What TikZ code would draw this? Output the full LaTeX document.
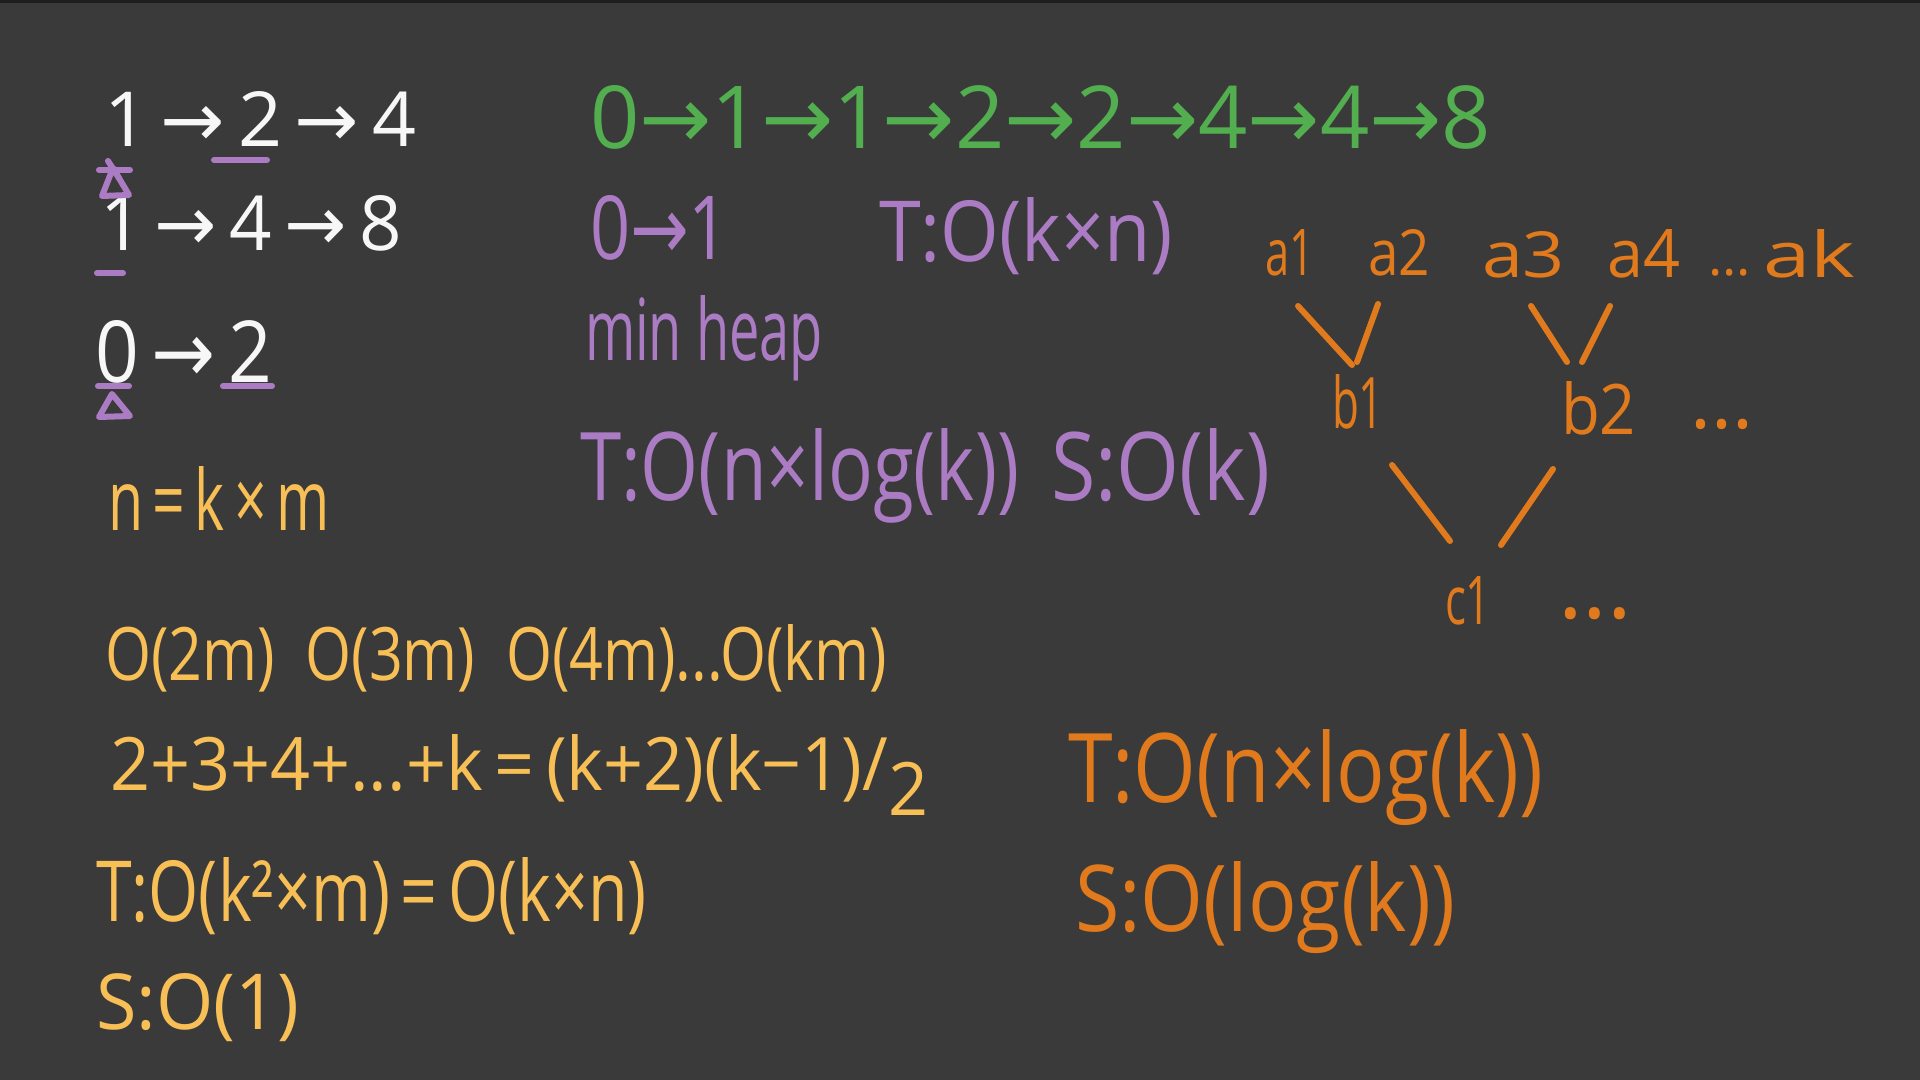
\documentclass[tikz,border=0pt]{standalone}
\usepackage{graphicx}
\usepackage{fontspec}
\setmainfont{Open Sans}
\newfontfamily\arrfont{DejaVu Sans}
\newlength\pxu
\setlength\pxu{0.5pt}
\newcommand\fitbox[3]{\resizebox{#1\pxu}{#2\pxu}{#3}}
\newcommand\fitw[2]{\resizebox{#1\pxu}{!}{#2}}
\newcommand\hwarrow{{\arrfont →}}
\definecolor{bgc}{HTML}{3A3A3A}
\definecolor{topc}{HTML}{1E1E1E}
\definecolor{chalk}{HTML}{F7F7F7}
\definecolor{lilac}{HTML}{AB7CC4}
\definecolor{leaf}{HTML}{52AE4F}
\definecolor{amber}{HTML}{F7BF55}
\definecolor{tang}{HTML}{E07A1C}
\tikzset{
  hw/.style={anchor=base west, inner sep=0pt, outer sep=0pt},
  pen/.style={line width=3pt, line cap=round, line join=round},
  treeline/.style={pen, draw=tang},
  hilite/.style={pen, draw=lilac},
}
\begin{document}
\begin{tikzpicture}[x=0.5pt, y=-0.5pt]
\fill[bgc] (0,0) rectangle (1920,1080);
\fill[topc] (0,0) rectangle (1920,3);
\useasboundingbox (0,0) rectangle (1920,1080);

% white lists
\node[hw, text=chalk] (r1) at (104,147) {\fitbox{312}{55}{1\,\hwarrow\,2\,\hwarrow\,4}};
\node[hw, text=chalk] (r2) at (100,251) {\fitbox{302}{55}{1\,\hwarrow\,4\,\hwarrow\,8}};
\node[hw, text=chalk] (r3) at (95,382) {\fitbox{177}{62}{0\,\hwarrow\,2}};

% purple marks on the lists
\draw[hilite] (214,160) -- (267,160);
\draw[hilite] (102,196) -- (113,168) -- (129,195) -- cycle;
\draw[hilite] (99,170) -- (130,170);
\draw[hilite] (108,161) -- (119,178);
\draw[hilite] (97,273) -- (123,273);
\draw[hilite] (98,386) -- (129,386);
\draw[hilite] (223,386) -- (272,386);
\draw[hilite] (99,417) -- (112,394) -- (130,416) -- cycle;

% n = k x m
\node[hw, text=amber] (nkm) at (108,530) {\fitbox{222}{64}{n\,=\,k\,×\,m}};

% green merged list
\node[hw, text=leaf] (merged) at (590,149) {\fitbox{901}{63}{0\hwarrow1\hwarrow1\hwarrow2\hwarrow2\hwarrow4\hwarrow4\hwarrow8}};

% purple notes
\node[hw, text=lilac] (p01) at (590,260) {\fitbox{139}{64}{0\hwarrow1}};
\node[hw, text=lilac] (pT1) at (879,262) {\fitbox{294}{64}{T:O(k×n)}};
\node[hw, text=lilac] (heap) at (585,361) {\fitbox{238}{65}{min heap}};
\node[hw, text=lilac] (pT2) at (580,500) {\fitbox{439}{72}{T:O(n×log(k))}};
\node[hw, text=lilac] (pS2) at (1051,500) {\fitbox{219}{72}{S:O(k)}};

% orange tree
\node[hw, text=tang] (a1) at (1265,276) {\fitbox{49}{46}{a1}};
\node[hw, text=tang] (a2) at (1368,276) {\fitbox{62}{46}{a2}};
\node[hw, text=tang] (a3) at (1482,278) {\fitbox{83}{46}{a3}};
\node[hw, text=tang] (a4) at (1607,278) {\fitbox{73}{48}{a4}};
\node[hw, text=tang] (adots) at (1708,276) {\fitw{43}{...}};
\node[hw, text=tang] (ak) at (1763,278) {\fitbox{92}{48}{ak}};
\node[hw, text=tang] (b1) at (1332,428) {\fitbox{52}{54}{b1}};
\node[hw, text=tang] (b2) at (1561,434) {\fitbox{75}{53}{b2}};
\node[hw, text=tang] (bdots) at (1690,428) {\fitw{63}{...}};
\node[hw, text=tang] (c1) at (1445,624) {\fitbox{46}{48}{c1}};
\node[hw, text=tang] (cdots) at (1558,618) {\fitw{74}{...}};

\coordinate (e1s) at (1298,306); \coordinate (e1e) at (1352,365);
\coordinate (e2s) at (1378,304); \coordinate (e2e) at (1357,362);
\coordinate (e3s) at (1531,306); \coordinate (e3e) at (1567,362);
\coordinate (e4s) at (1610,306); \coordinate (e4e) at (1582,362);
\coordinate (e5s) at (1392,465); \coordinate (e5e) at (1450,541);
\coordinate (e6s) at (1553,469); \coordinate (e6e) at (1501,545);
\draw[treeline] (e1s) -- (e1e);
\draw[treeline] (e2s) -- (e2e);
\draw[treeline] (e3s) -- (e3e);
\draw[treeline] (e4s) -- (e4e);
\draw[treeline] (e5s) -- (e5e);
\draw[treeline] (e6s) -- (e6e);

% yellow analysis
\node[hw, text=amber] (ocost) at (105,680) {\fitbox{782}{56}{O(2m)\ \ O(3m)\ \ O(4m)...O(km)}};
\node[hw, text=amber] (sum) at (110,790) {\fitbox{818}{56}{2+3+4+...+k\,=\,(k+2)(k−1)/\raisebox{-0.35em}{2}}};
\node[hw, text=amber] (tleft) at (96,921) {\fitbox{551}{64}{T:O(k²×m)\,=\,O(k×n)}};
\node[hw, text=amber] (sleft) at (96,1029) {\fitbox{203}{56}{S:O(1)}};

% orange analysis
\node[hw, text=tang] (tright) at (1068,802) {\fitbox{475}{73}{T:O(n×log(k))}};
\node[hw, text=tang] (sright) at (1075,931) {\fitbox{380}{70}{S:O(log(k))}};
\end{tikzpicture}
\end{document}
